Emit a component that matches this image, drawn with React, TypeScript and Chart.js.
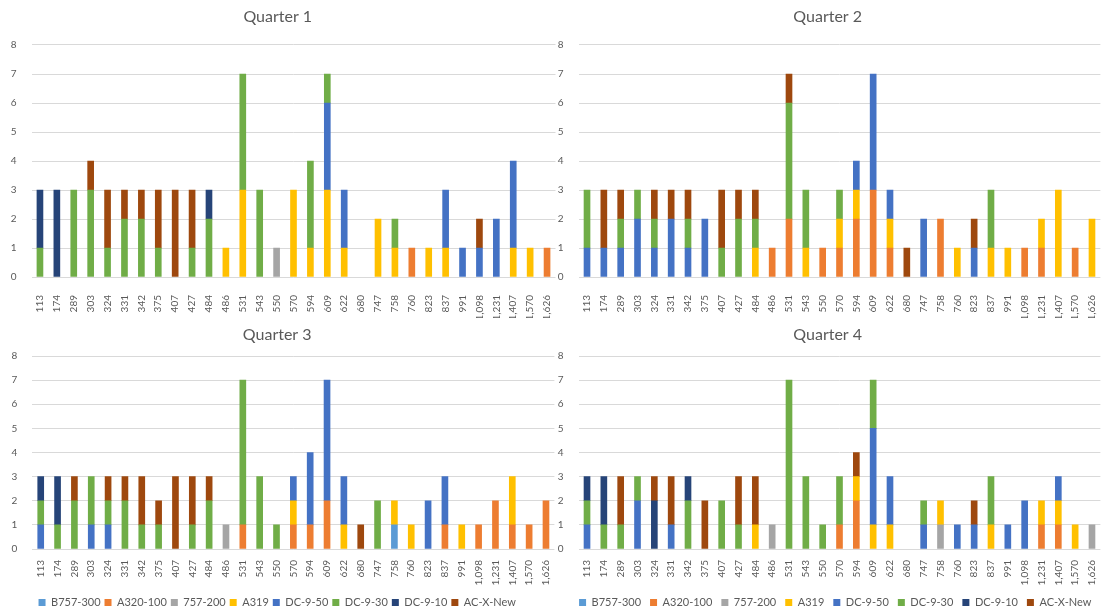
import React, { useEffect, useRef } from "react";
import { Chart, registerables } from "chart.js";

Chart.register(...registerables);

const categories = ["113","174","289","303","324","331","342","375","407","427","484","486","531","543","550","570","594","609","622","680","747","758","760","823","837","991","1,098","1,231","1,407","1,570","1,626"];
const seriesNames = ["B757-300","A320-100","757-200","A319","DC-9-50","DC-9-30","DC-9-10","AC-X-New"];
const seriesColors = ["#5B9BD5","#ED7D31","#A5A5A5","#FFC000","#4472C4","#70AD47","#264478","#9E480E"];
const yMax = 8;

// Quarter 1
const q1B757300 = [0,0,0,0,0,0,0,0,0,0, 0,0,0,0,0,0,0,0,0,0, 0,0,0,0,0,0,0,0,0,0, 0];
const q1A320100 = [0,0,0,0,0,0,0,0,0,0, 0,0,0,0,0,0,0,0,0,0, 0,0,1,0,0,0,0,0,0,0, 1];
const q1B757200 = [0,0,0,0,0,0,0,0,0,0, 0,0,0,0,1,0,0,0,0,0, 0,0,0,0,0,0,0,0,0,0, 0];
const q1A319 = [0,0,0,0,0,0,0,0,0,0, 0,1,3,0,0,3,1,3,1,0, 2,1,0,1,1,0,0,0,1,1, 0];
const q1DC950 = [0,0,0,0,0,0,0,0,0,0, 0,0,0,0,0,0,0,3,2,0, 0,0,0,0,2,1,1,2,3,0, 0];
const q1DC930 = [1,0,3,3,1,2,2,1,0,1, 2,0,4,3,0,0,3,1,0,0, 0,1,0,0,0,0,0,0,0,0, 0];
const q1DC910 = [2,3,0,0,0,0,0,0,0,0, 1,0,0,0,0,0,0,0,0,0, 0,0,0,0,0,0,0,0,0,0, 0];
const q1ACXNew = [0,0,0,1,2,1,1,2,3,2, 0,0,0,0,0,0,0,0,0,0, 0,0,0,0,0,0,1,0,0,0, 0];

// Quarter 2
const q2B757300 = [0,0,0,0,0,0,0,0,0,0, 0,0,0,0,0,0,0,0,0,0, 0,0,0,0,0,0,0,0,0,0, 0];
const q2A320100 = [0,0,0,0,0,0,0,0,0,0, 0,1,2,0,1,1,2,3,1,0, 0,2,0,0,0,0,1,1,0,1, 0];
const q2B757200 = [0,0,0,0,0,0,0,0,0,0, 0,0,0,0,0,0,0,0,0,0, 0,0,0,0,0,0,0,0,0,0, 0];
const q2A319 = [0,0,0,0,0,0,0,0,0,0, 1,0,0,1,0,1,1,0,1,0, 0,0,1,0,1,1,0,1,3,0, 2];
const q2DC950 = [1,1,1,2,1,2,1,2,0,0, 0,0,0,0,0,0,1,4,1,0, 2,0,0,1,0,0,0,0,0,0, 0];
const q2DC930 = [2,0,1,1,1,0,1,0,1,2, 1,0,4,2,0,1,0,0,0,0, 0,0,0,0,2,0,0,0,0,0, 0];
const q2DC910 = [0,0,0,0,0,0,0,0,0,0, 0,0,0,0,0,0,0,0,0,0, 0,0,0,0,0,0,0,0,0,0, 0];
const q2ACXNew = [0,2,1,0,1,1,1,0,2,1, 1,0,1,0,0,0,0,0,0,1, 0,0,0,1,0,0,0,0,0,0, 0];

// Quarter 3
const q3B757300 = [0,0,0,0,0,0,0,0,0,0, 0,0,0,0,0,0,0,0,0,0, 0,1,0,0,0,0,0,0,0,0, 0];
const q3A320100 = [0,0,0,0,0,0,0,0,0,0, 0,0,1,0,0,1,1,2,0,0, 0,0,0,0,1,0,1,2,1,1, 2];
const q3B757200 = [0,0,0,0,0,0,0,0,0,0, 0,1,0,0,0,0,0,0,0,0, 0,0,0,0,0,0,0,0,0,0, 0];
const q3A319 = [0,0,0,0,0,0,0,0,0,0, 0,0,0,0,0,1,0,0,1,0, 0,1,1,0,0,1,0,0,2,0, 0];
const q3DC950 = [1,0,0,1,1,0,0,0,0,0, 0,0,0,0,0,1,3,5,2,0, 0,0,0,2,2,0,0,0,0,0, 0];
const q3DC930 = [1,1,2,2,1,2,1,1,0,1, 2,0,6,3,1,0,0,0,0,0, 2,0,0,0,0,0,0,0,0,0, 0];
const q3DC910 = [1,2,0,0,0,0,0,0,0,0, 0,0,0,0,0,0,0,0,0,0, 0,0,0,0,0,0,0,0,0,0, 0];
const q3ACXNew = [0,0,1,0,1,1,2,1,3,2, 1,0,0,0,0,0,0,0,0,1, 0,0,0,0,0,0,0,0,0,0, 0];

// Quarter 4
const q4B757300 = [0,0,0,0,0,0,0,0,0,0, 0,0,0,0,0,0,0,0,0,0, 0,0,0,0,0,0,0,0,0,0, 0];
const q4A320100 = [0,0,0,0,0,0,0,0,0,0, 0,0,0,0,0,1,2,0,0,0, 0,0,0,0,0,0,0,1,1,0, 0];
const q4B757200 = [0,0,0,0,0,0,0,0,0,0, 0,1,0,0,0,0,0,0,0,0, 0,1,0,0,0,0,0,0,0,0, 1];
const q4A319 = [0,0,0,0,0,0,0,0,0,0, 1,0,0,0,0,0,1,1,1,0, 0,1,0,0,1,0,0,1,1,1, 0];
const q4DC950 = [1,0,0,2,0,1,0,0,0,0, 0,0,0,0,0,0,0,4,2,0, 1,0,1,1,0,1,2,0,1,0, 0];
const q4DC930 = [1,1,1,1,0,0,2,0,2,1, 0,0,7,3,1,2,0,2,0,0, 1,0,0,0,2,0,0,0,0,0, 0];
const q4DC910 = [1,2,0,0,2,0,1,0,0,0, 0,0,0,0,0,0,0,0,0,0, 0,0,0,0,0,0,0,0,0,0, 0];
const q4ACXNew = [0,0,2,0,1,2,0,2,0,2, 2,0,0,0,0,0,1,0,0,0, 0,0,0,1,0,0,0,0,0,0, 0];

const FONT = "Lato, 'Open Sans', sans-serif";
const TEXT = "#595959";

type PanelCfg = {
  title: string;
  series: number[][];
  left: number; top: number; width: number; height: number;
  padTop: number; titlePadBottom: number; yWidth: number; padRight: number;
  xHeight: number; xTickPad: number; legend: boolean; legendPad: number; legendAlign: "center" | "end";
};

const panels: PanelCfg[] = [
  { title: "Quarter 1", series: [q1B757300,q1A320100,q1B757200,q1A319,q1DC950,q1DC930,q1DC910,q1ACXNew],
    left: 0, top: 0, width: 556, height: 318, padTop: 7.4, titlePadBottom: 18.4, yWidth: 31.5, padRight: 0.5,
    xHeight: 41, xTickPad: 10, legend: false, legendPad: 4, legendAlign: "center" },
  { title: "Quarter 2", series: [q2B757300,q2A320100,q2B757200,q2A319,q2DC950,q2DC930,q2DC910,q2ACXNew],
    left: 555, top: 0, width: 554, height: 318, padTop: 7.4, titlePadBottom: 18.4, yWidth: 23.6, padRight: 8.6,
    xHeight: 41, xTickPad: 10, legend: false, legendPad: 4, legendAlign: "center" },
  { title: "Quarter 3", series: [q3B757300,q3A320100,q3B757200,q3A319,q3DC950,q3DC930,q3DC910,q3ACXNew],
    left: 0, top: 318, width: 556, height: 300, padTop: 7.4, titlePadBottom: 11.4, yWidth: 32.3, padRight: 1.6,
    xHeight: 44, xTickPad: 3, legend: true, legendPad: 4, legendAlign: "center" },
  { title: "Quarter 4", series: [q4B757300,q4A320100,q4B757200,q4A319,q4DC950,q4DC930,q4DC910,q4ACXNew],
    left: 555, top: 318, width: 554, height: 300, padTop: 7.4, titlePadBottom: 11.4, yWidth: 23.6, padRight: 8.6,
    xHeight: 39, xTickPad: 3, legend: true, legendPad: 9, legendAlign: "end" },
];

function Panel({ cfg }: { cfg: PanelCfg }) {
  const ref = useRef<HTMLCanvasElement | null>(null);
  useEffect(() => {
    if (!ref.current) return;
    const chart = new Chart(ref.current, {
      type: "bar",
      data: {
        labels: categories,
        datasets: seriesNames.map((name, i) => ({
          label: name,
          data: cfg.series[i].map((v) => (v === 0 ? null : v)),
          backgroundColor: seriesColors[i],
          borderWidth: 0,
          barThickness: 6,
        })),
      },
      options: {
        responsive: false,
        animation: false,
        layout: { padding: { top: cfg.padTop, left: 0, right: cfg.padRight, bottom: 0 } },
        plugins: {
          title: {
            display: true,
            text: cfg.title,
            color: TEXT,
            font: { family: FONT, size: 16, weight: "normal", lineHeight: 1.2 },
            padding: { top: 0, bottom: cfg.titlePadBottom },
          },
          legend: {
            display: cfg.legend,
            position: "bottom",
            align: cfg.legendAlign,
            labels: {
              boxWidth: 7,
              boxHeight: 7,
              padding: cfg.legendPad,
              color: TEXT,
              font: { family: FONT, size: 11 },
            },
          },
          tooltip: { enabled: false },
        },
        scales: {
          x: {
            stacked: true,
            grid: { display: false },
            border: { display: false },
            ticks: {
              autoSkip: false,
              maxRotation: 90,
              minRotation: 90,
              padding: cfg.xTickPad,
              color: TEXT,
              font: { family: FONT, size: 10 },
            },
            afterFit: (s: any) => {
              s.height = cfg.xHeight;
              s.paddingLeft = 0;
              s.paddingRight = 0;
            },
          },
          y: {
            stacked: true,
            min: 0,
            max: yMax,
            grid: { color: "#D9D9D9", drawTicks: false },
            border: { display: false },
            ticks: {
              stepSize: 1,
              padding: 15,
              color: TEXT,
              font: { family: FONT, size: 10 },
            },
            afterFit: (s: any) => {
              s.width = cfg.yWidth;
            },
          },
        },
      },
    });
    return () => chart.destroy();
  }, [cfg]);
  return (
    <canvas
      ref={ref}
      width={cfg.width}
      height={cfg.height}
      style={{ position: "absolute", left: cfg.left, top: cfg.top, width: cfg.width, height: cfg.height }}
    />
  );
}

export default function App() {
  useEffect(() => {
    document.body.style.margin = "0";
    document.body.style.overflow = "hidden";
  }, []);
  return (
    <div style={{ position: "absolute", left: 0, top: 0, width: 1109, height: 610, overflow: "hidden", background: "#ffffff" }}>
      {panels.map((p) => (
        <Panel key={p.title} cfg={p} />
      ))}
    </div>
  );
}
